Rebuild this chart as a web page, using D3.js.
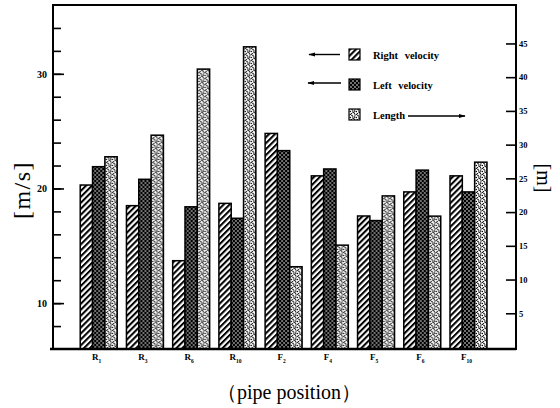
<!DOCTYPE html>
<html lang="en">
<head>
    <meta charset="UTF-8">
    <title>Pipe velocity and length</title>
    <script src="https://d3js.org/d3.v7.min.js"></script>
    <style>
        body {
            margin: 0;
            background: #fff;
        }
        svg {
            display: block;
            font-family: "Liberation Serif", "DejaVu Serif", serif;
        }
        .tick text {
            font-weight: bold;
            fill: #000;
        }
    </style>
</head>
<body>
<svg width="560" height="408"></svg>

<script>
    // data
    const categories = ["R1", "R3", "R6", "R10", "F2", "F4", "F5", "F6", "F10"];
    const rightVelocity = [20.3, 18.5, 13.7, 18.7, 24.8, 21.1, 17.6, 19.7, 21.1];
    const leftVelocity = [21.9, 20.8, 18.4, 17.4, 23.3, 21.7, 17.2, 21.6, 19.7];
    const pipeLength = [28.2, 31.4, 41.2, 44.5, 11.9, 15.1, 22.4, 19.4, 27.4];

    const seriesNames = ["Right velocity", "Left velocity", "Length"];
    const leftTicks = [10, 20, 30];
    const rightTicks = [5, 10, 15, 20, 25, 30, 35, 40, 45];

    let svg = d3.select("svg");

    // frame
    const plotLeft = 53, plotRight = 516, plotTop = 5, plotBottom = 349;

    // scales
    let x = d3.scaleBand()
        .domain(categories)
        .range([75.6, 491.6])
        .paddingInner(0.2)
        .paddingOuter(0.1);

    let xSub = d3.scaleBand()
        .domain(seriesNames)
        .range([0, x.bandwidth()]);

    let yL = d3.scaleLinear().domain([6, 36]).range([plotBottom, plotTop]);
    let yR = d3.scaleLinear().domain([0, 50.7]).range([347, plotTop]);

    // fill patterns
    let defs = svg.append("defs");

    let hatch = defs.append("pattern")
        .attr("id", "hatch")
        .attr("patternUnits", "userSpaceOnUse")
        .attr("width", 4.2).attr("height", 4.2)
        .attr("patternTransform", "rotate(45)");
    hatch.append("rect").attr("width", 4.2).attr("height", 4.2).attr("fill", "#fff");
    hatch.append("line")
        .attr("x1", 1).attr("y1", 0).attr("x2", 1).attr("y2", 4.2)
        .attr("stroke", "#000").attr("stroke-width", 2.1);

    let cross = defs.append("pattern")
        .attr("id", "cross")
        .attr("patternUnits", "userSpaceOnUse")
        .attr("width", 4).attr("height", 4);
    cross.append("rect").attr("width", 4).attr("height", 4).attr("fill", "#000");
    cross.append("circle").attr("cx", 1).attr("cy", 1).attr("r", 0.8).attr("fill", "#fff");
    cross.append("circle").attr("cx", 3).attr("cy", 3).attr("r", 0.8).attr("fill", "#fff");

    let dots = defs.append("pattern")
        .attr("id", "dots")
        .attr("patternUnits", "userSpaceOnUse")
        .attr("width", 6).attr("height", 6);
    dots.append("rect").attr("width", 6).attr("height", 6).attr("fill", "#fff");
    [[1, 1], [4, 1.6], [2.3, 3.6], [5.2, 4.6], [0.4, 5.2], [3.4, 5.8], [4.8, 3], [2.6, 0.3], [0.6, 3]].forEach(function (p) {
        dots.append("circle").attr("cx", p[0]).attr("cy", p[1]).attr("r", 0.75).attr("fill", "#000");
    });

    const fills = {"Right velocity": "url(#hatch)", "Left velocity": "url(#cross)", "Length": "url(#dots)"};

    // bars
    let rows = categories.map(function (c, i) {
        return [
            {cat: c, key: "Right velocity", y: yL(rightVelocity[i])},
            {cat: c, key: "Left velocity", y: yL(leftVelocity[i])},
            {cat: c, key: "Length", y: yR(pipeLength[i])}
        ];
    });

    svg.append("g")
        .selectAll("g")
        .data(rows)
        .enter()
        .append("g")
        .attr("transform", function (d) { return "translate(" + x(d[0].cat) + ",0)"; })
        .selectAll("rect")
        .data(function (d) { return d; })
        .enter()
        .append("rect")
        .attr("x", function (d) { return xSub(d.key); })
        .attr("y", function (d) { return d.y; })
        .attr("width", xSub.bandwidth())
        .attr("height", function (d) { return plotBottom - d.y; })
        .attr("fill", function (d) { return fills[d.key]; })
        .attr("stroke", "#000")
        .attr("stroke-width", 1.5);

    // left axis: minor ticks every 2, labels at 10s
    let gL = svg.append("g").attr("transform", "translate(" + plotLeft + ",0)");
    gL.append("g")
        .call(d3.axisLeft(yL).tickValues(d3.range(8, 36, 2)).tickSizeInner(-8).tickSizeOuter(0).tickFormat(""))
        .call(function (g) { g.select(".domain").remove(); })
        .selectAll("line").attr("stroke-width", 1.6);
    gL.append("g")
        .call(d3.axisLeft(yL).tickValues(leftTicks).tickSizeInner(-11).tickSizeOuter(0).tickPadding(6))
        .call(function (g) { g.select(".domain").remove(); })
        .call(function (g) { g.selectAll("text").attr("font-size", 10).attr("font-family", "Liberation Serif"); })
        .selectAll("line").attr("stroke-width", 1.6);

    // right axis
    let gR = svg.append("g").attr("transform", "translate(" + plotRight + ",0)");
    gR.call(d3.axisRight(yR).tickValues(rightTicks).tickSizeInner(-10).tickSizeOuter(0).tickPadding(3))
        .call(function (g) { g.select(".domain").remove(); })
        .call(function (g) { g.selectAll("text").attr("font-size", 8.5).attr("font-family", "Liberation Serif"); })
        .selectAll("line").attr("stroke-width", 1.6);

    // frame
    svg.append("rect")
        .attr("x", plotLeft).attr("y", plotTop)
        .attr("width", plotRight - plotLeft).attr("height", plotBottom - plotTop)
        .attr("fill", "none")
        .attr("stroke", "#000")
        .attr("stroke-width", 2);
    svg.append("line")
        .attr("x1", plotLeft - 3).attr("x2", plotRight).attr("y1", plotBottom).attr("y2", plotBottom)
        .attr("stroke", "#000").attr("stroke-width", 2.6);

    // category labels with subscripts
    let catLabels = svg.append("g")
        .selectAll("text")
        .data(categories)
        .enter()
        .append("text")
        .attr("x", function (d) { return x(d) + x.bandwidth() / 2 - 2; })
        .attr("y", 360)
        .attr("text-anchor", "middle")
        .attr("font-size", 9)
        .attr("font-weight", "bold");
    catLabels.append("tspan").text(function (d) { return d[0]; });
    catLabels.append("tspan")
        .attr("font-size", 5.5)
        .attr("dy", 2.5)
        .text(function (d) { return d.slice(1); });

    // axis titles
    svg.append("text")
        .attr("transform", "translate(30,190) rotate(-90)")
        .attr("text-anchor", "middle")
        .attr("font-size", 24)
        .attr("letter-spacing", 1.5)
        .text("[m/s]");

    svg.append("text")
        .attr("transform", "translate(537,178) rotate(90)")
        .attr("text-anchor", "middle")
        .attr("font-size", 20)
        .text("[m]");

    svg.append("text")
        .attr("x", 289)
        .attr("y", 399)
        .attr("text-anchor", "middle")
        .attr("font-size", 20)
        .text("（pipe position）");

    // legend
    const legendY = [54.5, 84.5, 114.5];
    let legend = svg.append("g");
    seriesNames.forEach(function (name, i) {
        legend.append("rect")
            .attr("x", 349).attr("y", legendY[i] - 5.5)
            .attr("width", 11).attr("height", 11)
            .attr("fill", fills[name])
            .attr("stroke", "#000").attr("stroke-width", 1.2);
        legend.append("text")
            .attr("x", 373).attr("y", legendY[i] + 4)
            .attr("font-size", 10.5)
            .attr("font-weight", "bold")
            .attr("word-spacing", 4)
            .text(name);
    });

    // arrows pointing to the axis each series uses
    defs.append("marker")
        .attr("id", "head")
        .attr("viewBox", "0 0 10 10")
        .attr("refX", 9).attr("refY", 5)
        .attr("markerWidth", 5).attr("markerHeight", 5)
        .attr("orient", "auto-start-reverse")
        .append("path")
        .attr("d", "M0,2 L10,5 L0,8 Z")
        .attr("fill", "#000");

    legend.append("line")
        .attr("x1", 340).attr("x2", 309).attr("y1", legendY[0]).attr("y2", legendY[0])
        .attr("stroke", "#000").attr("stroke-width", 1.4).attr("marker-end", "url(#head)");
    legend.append("line")
        .attr("x1", 341).attr("x2", 308).attr("y1", legendY[1] - 1.5).attr("y2", legendY[1] - 1.5)
        .attr("stroke", "#000").attr("stroke-width", 1.4).attr("marker-end", "url(#head)");
    legend.append("line")
        .attr("x1", 408).attr("x2", 465).attr("y1", legendY[2] + 1.5).attr("y2", legendY[2] + 1.5)
        .attr("stroke", "#000").attr("stroke-width", 1.4).attr("marker-end", "url(#head)");
</script>
</body>
</html>
